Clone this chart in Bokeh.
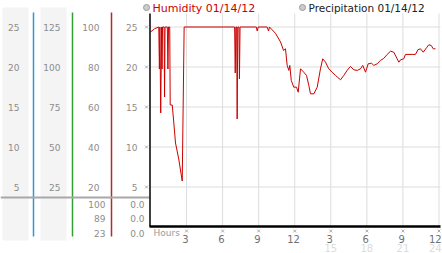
from bokeh.plotting import figure
from bokeh.models import Range1d
from bokeh.core.properties import value
from bokeh.embed import file_html
from bokeh.resources import INLINE

# ---- data ----
hours = [0.0, 0.33, 0.69, 0.74, 0.78, 0.85, 0.92, 0.96, 1.0, 1.13, 1.17, 1.21, 1.40, 1.45, 1.50,
         1.60, 1.64, 1.81, 1.94, 2.08, 2.35, 2.64, 2.72, 2.80,
         7.0, 7.05, 7.1, 7.17, 7.21, 7.26, 7.36, 7.40, 7.45,
         8.8, 8.88, 8.96, 9.7, 9.82, 9.9, 10.12, 10.4, 10.82, 11.07, 11.23, 11.37, 11.51, 11.59,
         11.71, 11.92, 12.15, 12.29, 12.48, 12.75, 12.98, 13.17, 13.31, 13.59, 13.87, 14.14,
         14.33, 14.56, 14.83, 15.11, 15.39, 15.81, 16.08, 16.36, 16.64, 16.91, 17.2, 17.47,
         17.66, 17.89, 18.11, 18.39, 18.58, 18.86, 19.13, 19.41, 19.69, 19.97, 20.24, 20.52,
         20.66, 20.8, 21.07, 21.21, 21.77, 22.05, 22.24, 22.46, 22.69, 22.96, 23.15, 23.35,
         23.52, 23.71]
humidity = [97.5, 99.1, 100, 79, 100, 57, 100, 79, 100, 100, 65, 100, 100, 79, 100,
            100, 61, 61, 52, 42, 34, 23, 62, 100,
            100, 77, 100, 100, 54, 100, 100, 74, 100,
            100, 98, 100, 100, 98, 100, 98.6, 96.8, 92.5, 88.3, 89.1, 80.8, 78.3, 80.8,
            73.3, 69.9, 69.9, 67.4, 79.1, 77.4, 75.8, 70.8, 66.6, 66.6, 69.9, 79.1,
            84.1, 82.4, 79.1, 77.4, 75.8, 73.6, 75.8, 78.3, 80.3, 78.6, 78.3, 79.1,
            80.8, 77.4, 81.6, 81.9, 80.8, 81.6, 83.3, 84.3, 86.3, 87.9, 87.4, 84.1,
            82.4, 83.6, 84.1, 86.3, 86.3, 86.3, 88.6, 89.1, 87.4, 89.6, 91.1, 90.8,
            89.1, 89.1]

scale1_labels = [25, 20, 15, 10, 5]          # first grey column
scale2_labels = [125, 100, 75, 50, 25]       # second grey column
humidity_ticks = [100, 80, 60, 40, 20]       # humidity scale (red)
main_labels = [25, 20, 15, 10, 5]            # main scale next to plot
stats_humidity = ["100", "89", "23"]
stats_precip = ["0.0", "0.0", "0.0"]
x_ticks = [3, 6, 9, 12, 15, 18, 21, 24]
x_tick_labels = ["3", "6", "9", "12", "3", "6", "9", "12"]
x_day2_ticks = [15, 18, 21, 24]
x_day2_labels = ["15", "18", "21", "24"]
legend_labels = ["Humidity 01/14/12", "Precipitation 01/14/12"]

# ---- geometry (pixel layout) ----
W, H = 442, 253
X0 = 150.0          # px of hour 0
PXH = 12.02         # px per hour
Y0 = 226.5          # px of humidity 0
PXP = 2.0           # px per humidity %
LAST_LABEL_H = 23.7  # keep right-most labels inside the window

p = figure(width=W, height=H, output_backend="svg", toolbar_location=None,
           x_range=Range1d(-X0 / PXH, (W - X0) / PXH),
           y_range=Range1d(-(H - Y0) / PXP, Y0 / PXP),
           min_border=0)
p.extra_x_ranges = {"px": Range1d(0, W)}
p.extra_y_ranges = {"py": Range1d(H, 0)}
p.axis.visible = False
p.grid.visible = False
p.outline_line_color = None
p.background_fill_color = "white"
p.border_fill_color = "white"

FONT = value("DejaVu Sans")
top_pct = (Y0 - 13) / PXP
right_h = (440 - X0) / PXH

# grey panels
p.quad(left=[2, 40], right=[28, 66], top=[7, 7], bottom=[240, 240],
       x_range_name="px", y_range_name="py", fill_color="#f4f4f4", line_color=None)

# gridlines
p.segment(x0=[0] * len(humidity_ticks), x1=[right_h] * len(humidity_ticks),
          y0=humidity_ticks, y1=humidity_ticks, line_color="#dddddd", line_width=1)
p.segment(x0=x_ticks, x1=x_ticks, y0=[0] * len(x_ticks), y1=[top_pct] * len(x_ticks),
          line_color="#dddddd", line_width=1)

# colored scale bars
p.segment(x0=[33, 72, 111], x1=[33, 72, 111], y0=[12] * 3, y1=[236] * 3,
          x_range_name="px", y_range_name="py",
          line_color=["#3399cc", "#33a033", "#b52a2a"], line_width=1.5)
p.segment(x0=[0], x1=[149], y0=[197], y1=[197], x_range_name="px", y_range_name="py",
          line_color="#a8a8a8", line_width=2)

# data
p.line(hours, humidity, line_color="#cc0000", line_width=1)

# axis lines
p.segment(x0=[149.5], x1=[149.5], y0=[13], y1=[226], x_range_name="px", y_range_name="py",
          line_color="black", line_width=1.5)
p.segment(x0=[149], x1=[440], y0=[226], y1=[226], x_range_name="px", y_range_name="py",
          line_color="black", line_width=2.5)

# y tick marks
p.scatter(x=[146] * 5, y=humidity_ticks, marker="x", size=4, line_color="#aaaaaa",
          x_range_name="px")
# x tick marks
p.scatter(x=x_ticks, y=[230.5] * len(x_ticks), marker="x", size=4, line_color="#aaaaaa",
          y_range_name="py")

lab = dict(text_font=FONT, text_font_size="9px", text_color="#8c8c8c",
           text_baseline="middle", text_align="right", x_range_name="px")
p.text(x=[19] * 5, y=[v * 4 for v in scale1_labels], text=[str(v) for v in scale1_labels], **lab)
p.text(x=[60] * 5, y=[v * 0.8 for v in scale2_labels], text=[str(v) for v in scale2_labels], **lab)
p.text(x=[99] * 5, y=humidity_ticks, text=[str(v) for v in humidity_ticks], **lab)
p.text(x=[137] * 5, y=[v * 4 for v in main_labels], text=[str(v) for v in main_labels], **lab)

st = dict(lab)
st["y_range_name"] = "py"
p.text(x=[105] * 3, y=[204, 218, 232.5], text=stats_humidity, **st)
p.text(x=[144] * 3, y=[204, 218, 232.5], text=stats_precip, **st)

# x labels
p.text(x=[min(h - 0.1, LAST_LABEL_H) for h in x_ticks], y=[238.5] * len(x_ticks),
       text=x_tick_labels,
       text_font=FONT, text_font_size="10px", text_color="#707070",
       text_baseline="middle", text_align="center", y_range_name="py")
p.text(x=[min(h, LAST_LABEL_H) for h in x_day2_ticks], y=[247.5] * 4, text=x_day2_labels,
       text_font=FONT, text_font_size="10px", text_color="#dcdcdc",
       text_baseline="middle", text_align="center", y_range_name="py")
p.text(x=[153], y=[232.5], text=["Hours"], text_font=FONT, text_font_size="9px",
       text_color="#999999", text_baseline="middle", text_align="left",
       x_range_name="px", y_range_name="py")

# legend
p.scatter(x=[146, 302], y=[7, 7], marker="circle", size=6, fill_color="#cccccc",
          line_color="#999999", x_range_name="px", y_range_name="py")
p.text(x=[152, 308], y=[7.5, 7.5], text=legend_labels, text_font=FONT,
       text_font_size=["11px", "10.5px"], text_color=["#cc0000", "#222222"],
       text_baseline="middle", text_align="left", x_range_name="px", y_range_name="py")

open("out.html", "w").write(file_html(p, INLINE))
